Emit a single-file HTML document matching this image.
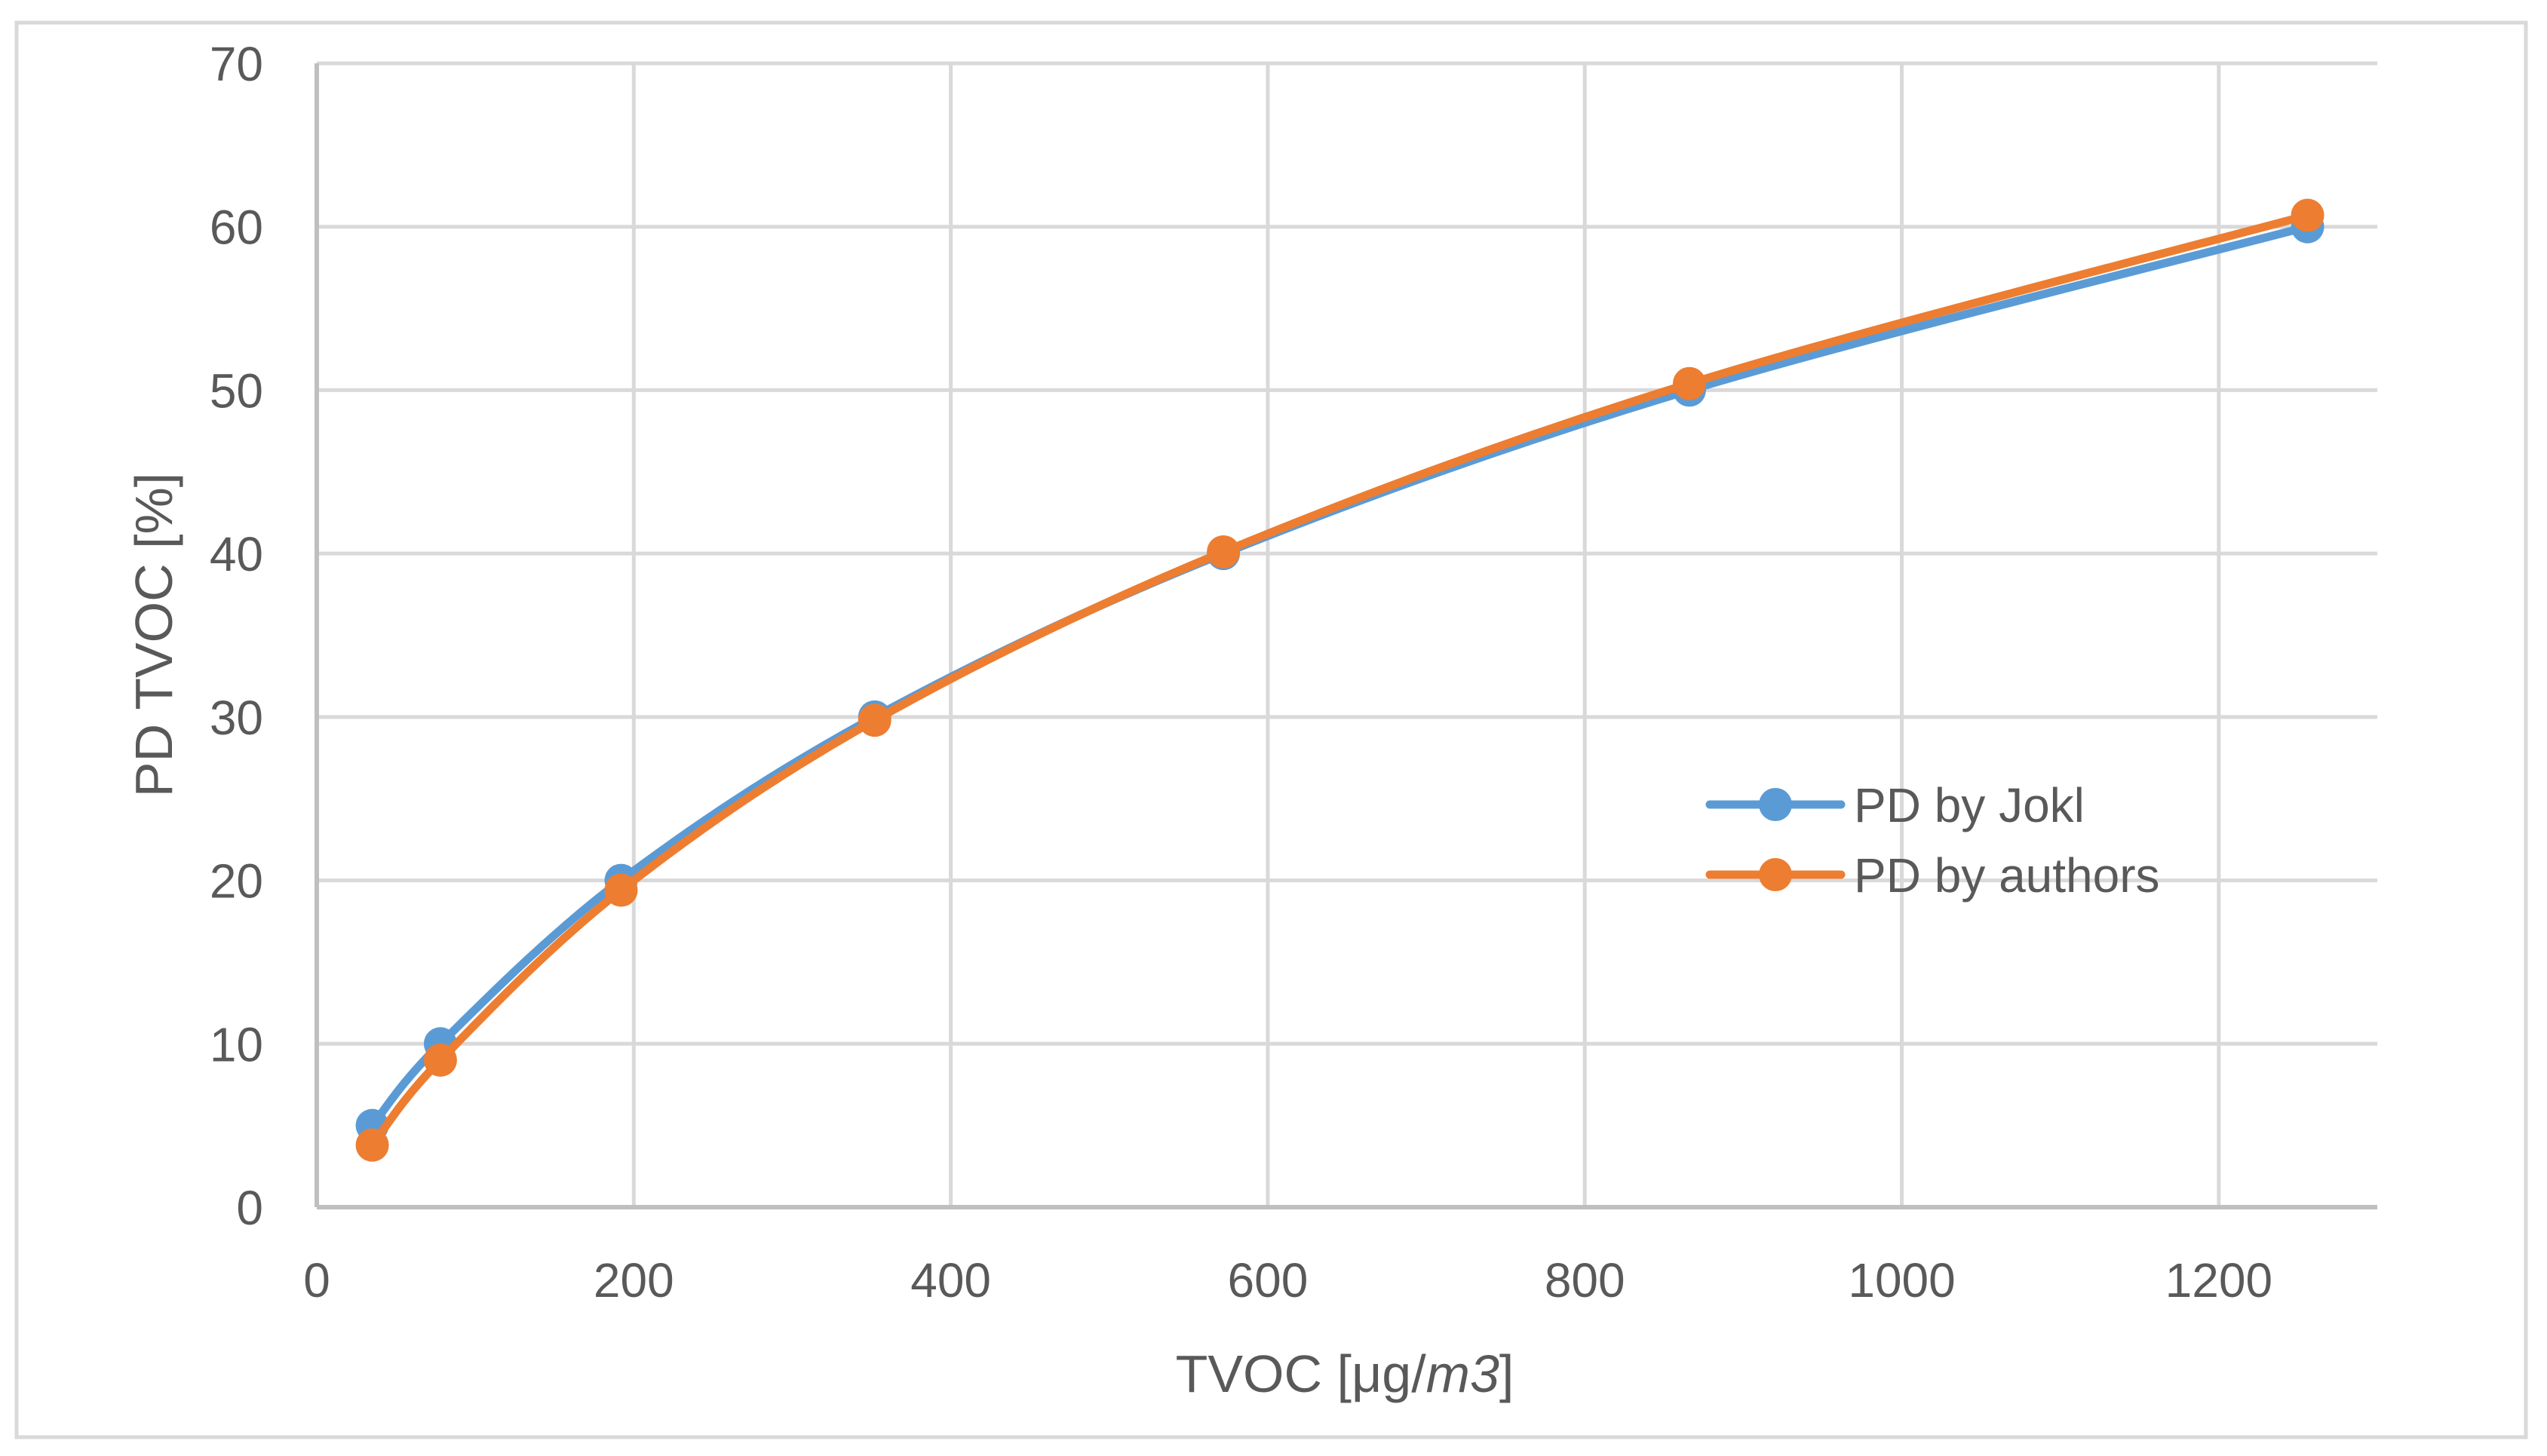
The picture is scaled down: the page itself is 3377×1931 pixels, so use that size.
<!DOCTYPE html>
<html><head><meta charset="utf-8"><style>
html,body{margin:0;padding:0;background:#fff}
svg{display:block}
text{font-family:"Liberation Sans",sans-serif;fill:#595959}
</style></head><body>
<svg id="chart" width="3377" height="1931" viewBox="0 0 3377 1931">
<rect x="22" y="30" width="3327" height="1876" fill="#fff" stroke="#d9d9d9" stroke-width="5"/>
<g id="grid"></g>
<g id="ticks"></g>
<g id="series"></g>
<text transform="translate(228,842) rotate(-90)" text-anchor="middle" font-size="70">PD TVOC [%]</text>
<text x="1783" y="1846" text-anchor="middle" font-size="70">TVOC [μg/<tspan font-style="italic">m3</tspan>]</text>
<g>
<line x1="2267" y1="1067" x2="2441" y2="1067" stroke="#5b9bd5" stroke-width="11" stroke-linecap="round"/>
<circle cx="2354" cy="1067" r="22" fill="#5b9bd5"/>
<text x="2458" y="1090" font-size="64">PD by Jokl</text>
<line x1="2267" y1="1160" x2="2441" y2="1160" stroke="#ed7d31" stroke-width="11" stroke-linecap="round"/>
<circle cx="2354" cy="1160" r="22" fill="#ed7d31"/>
<text x="2458" y="1183" font-size="64">PD by authors</text>
</g>
</svg>
<script>
const xValues = [35, 78, 192, 352, 572, 866, 1256];
const joklValues = [5, 10, 20, 30, 40, 50, 60];
const authorValues = [3.8, 9, 19.4, 29.8, 40.1, 50.4, 60.7];
const xTicks = [0, 200, 400, 600, 800, 1000, 1200];
const yTicks = [0, 10, 20, 30, 40, 50, 60, 70];

const L = 420, R = 3152, T = 84, B = 1601;
const xMax = 1300, yMax = 70;
const sx = v => L + v / xMax * (R - L);
const sy = v => B - v / yMax * (B - T);
const NS = "http://www.w3.org/2000/svg";
function mk(tag, attrs, parent) {
  const e = document.createElementNS(NS, tag);
  for (const k in attrs) e.setAttribute(k, attrs[k]);
  parent.appendChild(e);
  return e;
}
const grid = document.getElementById('grid');
const ticks = document.getElementById('ticks');
const series = document.getElementById('series');

yTicks.forEach(v => {
  if (v > 0) {
    const g = mk('line', {x1: L, x2: R, y1: sy(v), y2: sy(v), stroke: '#d9d9d9', 'stroke-width': 5}, grid);
    
    
  }
  const t = mk('text', {x: 349, y: sy(v) + 23, 'text-anchor': 'end', 'font-size': 64}, ticks);
  t.textContent = v;
  
  
});
xTicks.forEach(v => {
  if (v > 0) {
    const g = mk('line', {x1: sx(v), x2: sx(v), y1: T, y2: B, stroke: '#d9d9d9', 'stroke-width': 5}, grid);
    
    
  }
  const t = mk('text', {x: sx(v), y: 1720, 'text-anchor': 'middle', 'font-size': 64}, ticks);
  t.textContent = v;
  
  
});
const ax = mk('line', {x1: L, x2: R, y1: B, y2: B, stroke: '#bfbfbf', 'stroke-width': 6}, grid);


const ay = mk('line', {x1: L, x2: L, y1: T, y2: B, stroke: '#bfbfbf', 'stroke-width': 6}, grid);



function smooth(pts) {
  let d = `M${pts[0][0]},${pts[0][1]}`;
  const t = 0.5 / 3 * 2;
  for (let i = 0; i < pts.length - 1; i++) {
    const p0 = pts[i - 1] || pts[i], p1 = pts[i], p2 = pts[i + 1], p3 = pts[i + 2] || p2;
    const c1 = [p1[0] + (p2[0] - p0[0]) * t / 2, p1[1] + (p2[1] - p0[1]) * t / 2];
    const c2 = [p2[0] - (p3[0] - p1[0]) * t / 2, p2[1] - (p3[1] - p1[1]) * t / 2];
    d += ` C${c1[0]},${c1[1]} ${c2[0]},${c2[1]} ${p2[0]},${p2[1]}`;
  }
  return d;
}
function drawSeries(vals, color, name) {
  const pts = xValues.map((x, i) => [sx(x), sy(vals[i])]);
  const p = mk('path', {d: smooth(pts), fill: 'none', stroke: color, 'stroke-width': 11, 'stroke-linecap': 'round'}, series);
  
  
  pts.forEach(pt => {
    const c = mk('circle', {cx: pt[0], cy: pt[1], r: 22, fill: color}, series);
    
    
  });
}
drawSeries(joklValues, '#5b9bd5', 'jokl');
drawSeries(authorValues, '#ed7d31', 'authors');
</script>
</body></html>
